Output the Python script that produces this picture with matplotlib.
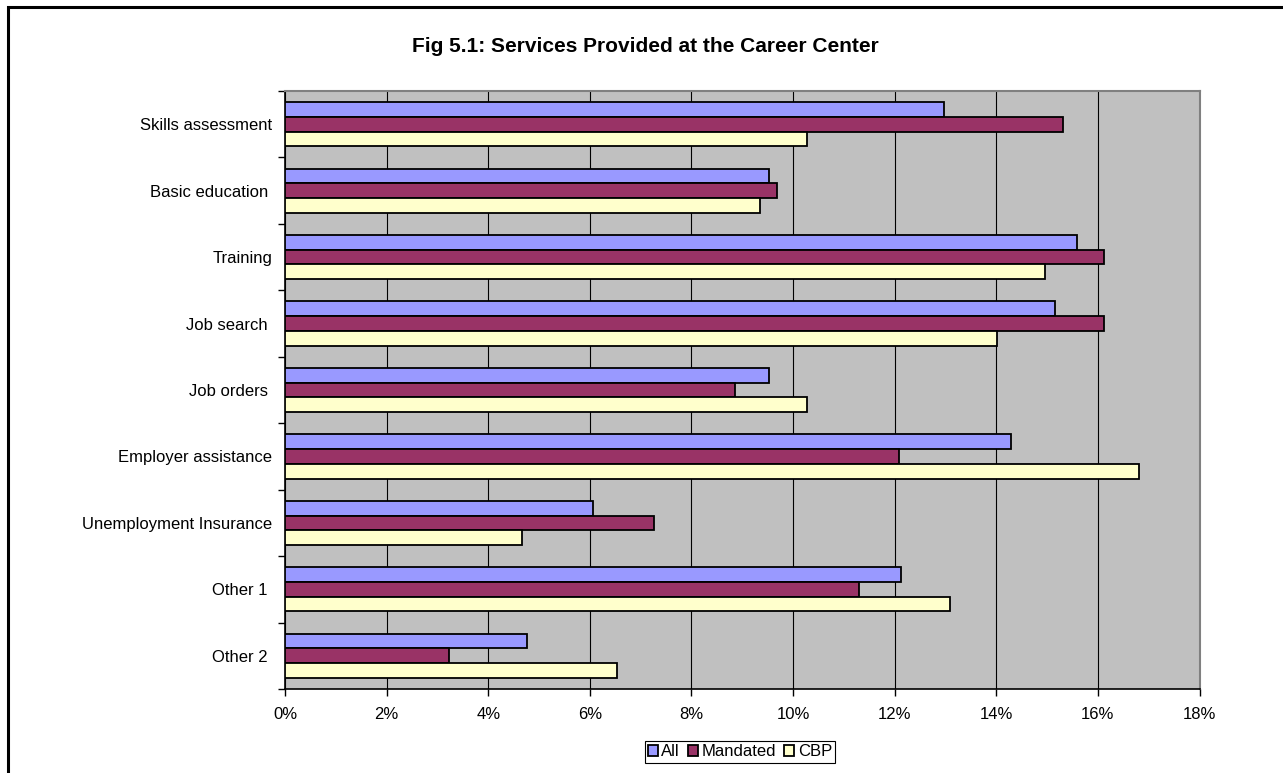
#!/usr/bin/env python

import numpy as np
import matplotlib.pyplot as plt
from matplotlib.patches import Rectangle
from matplotlib.ticker import FixedLocator, PercentFormatter

plt.rcParams['font.family'] = ['Liberation Sans', 'DejaVu Sans']

# data (percent of respondents)
categories = ["Skills assessment", "Basic education ", "Training", "Job search ",
              "Job orders ", "Employer assistance", "Unemployment Insurance",
              "Other 1 ", "Other 2 "]
seriesNames = ["All", "Mandated", "CBP"]
allVals = [12.98, 9.52, 15.58, 15.15, 9.52, 14.28, 6.06, 12.12, 4.77]
mandatedVals = [15.32, 9.68, 16.13, 16.13, 8.86, 12.09, 7.26, 11.30, 3.22]
cbpVals = [10.27, 9.35, 14.95, 14.01, 10.27, 16.81, 4.66, 13.08, 6.54]
xTicks = [0, 2, 4, 6, 8, 10, 12, 14, 16, 18]

colors = ['#9999FF', '#993366', '#FFFFCC']

fig = plt.figure(figsize=(12.83, 7.73), dpi=100)
ax = fig.add_axes([285/1283, 1 - 689/773, (1199.5 - 285)/1283, (689 - 91)/773])
ax.set_facecolor('#C0C0C0')

# excel style: gap width 50% -> three bars fill 2/3 of a category
y = np.arange(len(categories))
barH = 2.0/3.0/3.0
for k, (vals, c, name) in enumerate(zip([allVals, mandatedVals, cbpVals], colors, seriesNames)):
    ax.barh(y + (k - 1)*barH, vals, height=barH, color=c, edgecolor='black',
            linewidth=1.3, label=name, zorder=3)

ax.set_ylim(len(categories) - 0.5, -0.5)
ax.set_xlim(0, 18)

# category labels at centres, tick marks on the boundaries
ax.set_yticks(y)
ax.set_yticklabels(categories, fontsize=12)
ax.tick_params(axis='y', which='major', length=0, pad=9)
ax.yaxis.set_minor_locator(FixedLocator(np.arange(-0.5, len(categories), 1.0)))
ax.tick_params(axis='y', which='minor', length=5, width=1, direction='out')

ax.set_xticks(xTicks)
ax.xaxis.set_major_formatter(PercentFormatter(decimals=0))
ax.tick_params(axis='x', length=5, width=1, direction='out', labelsize=12, pad=8)

ax.grid(True, axis='x', color='black', linewidth=0.8, zorder=1)
ax.set_axisbelow(True)

ax.spines['left'].set_color('black')
ax.spines['bottom'].set_color('black')
ax.spines['left'].set_linewidth(1.2)
ax.spines['bottom'].set_linewidth(1.2)
ax.spines['top'].set_color('#808080')
ax.spines['right'].set_color('#808080')
ax.spines['top'].set_linewidth(1.5)
ax.spines['right'].set_linewidth(1.5)

fig.text(645/1283, 1 - 47/773, "Fig 5.1: Services Provided at the Career Center",
         ha='center', va='center', fontsize=15, fontweight='bold')

leg = fig.legend(loc='center', bbox_to_anchor=(740/1283, 1 - 752/773), ncol=3,
                 fontsize=12, frameon=True, fancybox=False, edgecolor='black',
                 framealpha=1, handlelength=0.6, handleheight=0.6,
                 handletextpad=0.2, columnspacing=0.5, borderpad=0.2,
                 borderaxespad=0)
leg.get_frame().set_linewidth(0.8)

# outer chart border (runs off the right and bottom of the picture)
fig.patches.append(Rectangle((8/1283, -0.1), 1.2, 1.1 - 7/773, transform=fig.transFigure,
                             fill=False, edgecolor='black', linewidth=2.2))

fig.savefig("out.png", dpi=100)
